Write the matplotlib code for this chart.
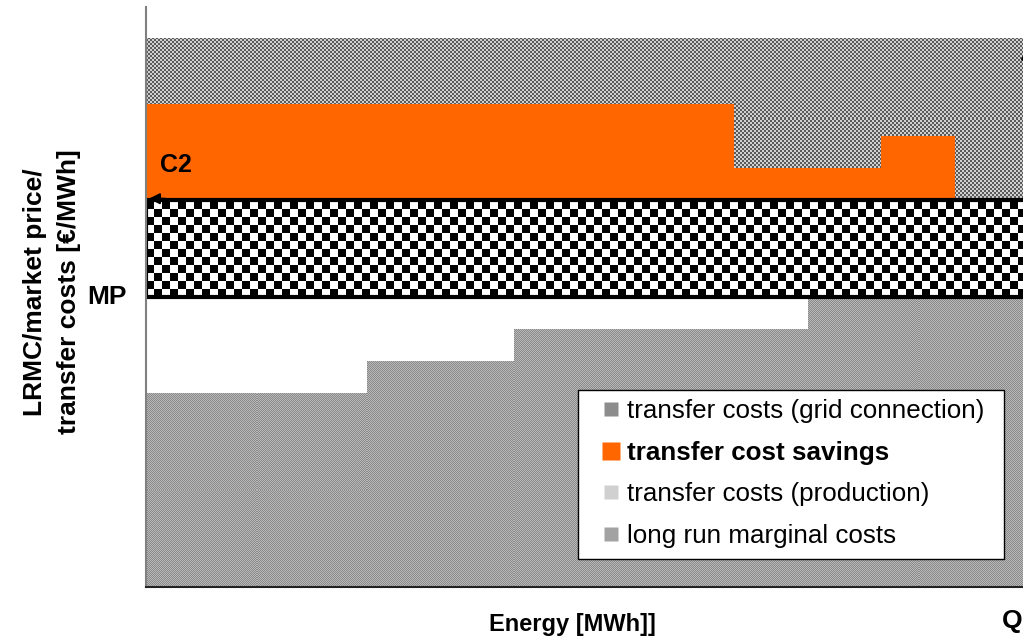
import numpy as np
import matplotlib
matplotlib.use('Agg')
import matplotlib.pyplot as plt
from matplotlib.colors import ListedColormap
from matplotlib.lines import Line2D
from matplotlib.patches import Rectangle

plt.rcParams['font.family'] = ['Liberation Sans', 'DejaVu Sans']

# energy axis breakpoints [MWh] and cost levels [EUR/MWh]
q_max = 120
cost_max = 180
lrmc_edges = [0, 30, 50, 90, 120]
lrmc_levels = [60, 70, 80, 90]
market_price = 90
production_top = 120
savings_edges = [0, 80, 100, 110, 120]
savings_top = [150, 130, 140, 120]
grid_top = 170

labels = ['transfer costs (grid connection)', 'transfer cost savings',
          'transfer costs (production)', 'long run marginal costs']
swatch_colors = ['#8c8c8c', '#ff6600', '#d0d0d0', '#a2a2a2']

ORANGE = '#ff6600'


def checker(ax, x0, x1, y0, y1, cell, dark, light, z):
    # pattern drawn at screen resolution so the cells stay crisp
    p0 = ax.transData.transform((x0, y0))
    p1 = ax.transData.transform((x1, y1))
    nx = max(1, int(round(p1[0] - p0[0])))
    ny = max(1, int(round(p1[1] - p0[1])))
    yy, xx = np.indices((ny, nx))
    pat = (xx // cell + yy // cell) % 2
    ax.imshow(pat, extent=(x0, x1, y0, y1), origin='lower', aspect='auto',
              cmap=ListedColormap([light, dark]), interpolation='nearest',
              zorder=z)


fig = plt.figure(figsize=(10.23, 6.39), dpi=100)
ax = fig.add_axes([146 / 1023, 52 / 639, 882 / 1023, 580 / 639])
ax.set_xlim(0, q_max)
ax.set_ylim(0, cost_max)

# grid connection transfer costs (background band)
checker(ax, 0, q_max, production_top, grid_top, 2, '#5a5a5a', '#d0d0d0', 1)

# long run marginal costs, one step per plant block
for i, lvl in enumerate(lrmc_levels):
    checker(ax, lrmc_edges[i], lrmc_edges[i + 1], 0, lvl, 1,
            '#8a8a8a', '#b8b8b8', 1)

# market price / production transfer band
checker(ax, 0, q_max, market_price, production_top, 8, 'black', 'white', 2)
ax.add_patch(Rectangle((0, market_price), q_max, production_top - market_price,
                       fill=False, ec='black', lw=3, zorder=4))

# transfer cost savings
widths = np.diff(savings_edges)
heights = np.array(savings_top) - production_top
ax.bar(savings_edges[:-1], heights, width=widths, bottom=production_top,
       align='edge', color=ORANGE, lw=0, zorder=3)

ax.set_xlim(0, q_max)
ax.set_ylim(0, cost_max)

# arrows
ax.annotate('', xy=(0, production_top + 0.5), xytext=(3, production_top + 0.5),
            arrowprops=dict(arrowstyle='-|>', color='black', lw=1.5,
                            mutation_scale=16), zorder=6)
ax.annotate('', xy=(q_max - 0.2, 168), xytext=(q_max - 0.2, 160),
            arrowprops=dict(arrowstyle='-|>', color='black', lw=1.5,
                            mutation_scale=16), annotation_clip=False, zorder=6)

ax.text(1.9, 131, 'C2', fontsize=18, fontweight='bold', ha='left', va='center',
        zorder=7)
ax.text(-0.022, market_price, 'MP', transform=ax.get_yaxis_transform(),
        fontsize=19, fontweight='bold', ha='right', va='center')

for s in ['top', 'right']:
    ax.spines[s].set_visible(False)
ax.spines['left'].set_color('#808080')
ax.spines['left'].set_linewidth(1.5)
ax.spines['bottom'].set_color('#222222')
ax.spines['bottom'].set_linewidth(1.5)
for s in ax.spines.values():
    s.set_zorder(8)
ax.set_xticks([])
ax.set_yticks([])

fig.text(52 / 1023, 1 - 292 / 639, 'LRMC/market price/\ntransfer costs [€/MWh]',
         rotation=90, ha='center', va='center', multialignment='center',
         fontsize=19, fontweight='bold', linespacing=1.5)
fig.text(572 / 1023, 1 - 624 / 639, 'Energy [MWh]]', ha='center', va='center',
         fontsize=17, fontweight='bold')
fig.text(1002 / 1023, 1 - 621 / 639, 'Q', ha='left', va='center',
         fontsize=19, fontweight='bold')

# legend box
box = Rectangle((578 / 1023, 1 - 559 / 639), (1004 - 578) / 1023, (559 - 390) / 639,
                transform=fig.transFigure, fc='white', ec='black', lw=1,
                zorder=9)
ax.add_patch(box)
box.set_clip_on(False)

handles = [Line2D([], [], ls='none', marker='s', mec='none', mfc=c,
                  ms=13 if c == ORANGE else 10) for c in swatch_colors]
leg = ax.legend(handles, labels, loc='upper left',
                bbox_to_anchor=(597 / 1023, 1 - 399 / 639),
                bbox_transform=fig.transFigure, frameon=False, fontsize=18.7,
                borderpad=0, borderaxespad=0, handlelength=1.1,
                handletextpad=0.05, labelspacing=0.68)
leg.set_zorder(10)
leg.get_texts()[1].set_fontweight('bold')

fig.savefig('out.png', dpi=100)
